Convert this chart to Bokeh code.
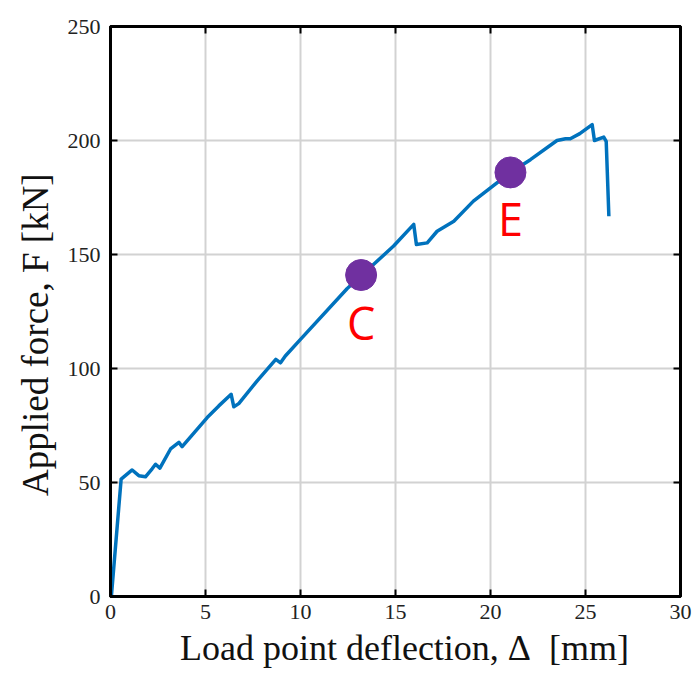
from bokeh.plotting import figure
from bokeh.models import ColumnDataSource, Range1d, LinearAxis, FixedTicker
from bokeh.core.properties import value
from bokeh.embed import file_html
from bokeh.resources import INLINE

# Load-deflection curve
deflection = [0.05, 0.56, 1.14, 1.49, 1.84, 2.19, 2.37, 2.6, 3.16, 3.6, 3.77, 5.09, 5.7,
              6.35, 6.49, 6.75, 7.72, 8.7, 8.95, 9.2, 10.0, 12.46, 14.9, 15.96, 16.1,
              16.67, 17.19, 18.07, 19.1, 21.05, 22.1, 23.5, 23.95, 24.2, 24.7, 25.35,
              25.47, 25.96, 26.09, 26.23]
force = [0.5, 51.5, 55.5, 53.0, 52.5, 56.0, 58.0, 56.3, 64.7, 67.6, 65.7, 78.5, 83.6,
         88.7, 83.2, 84.6, 94.6, 104.0, 102.5, 105.5, 112.8, 135.1, 153.7, 163.2, 154.4,
         155.1, 160.2, 164.6, 173.4, 186.0, 191.6, 200.0, 200.8, 200.8, 203.0, 207.0,
         200.0, 201.5, 199.6, 166.8]

# Marked states
point_names = ["C", "E"]
point_x = [13.19, 21.05]
point_y = [141.0, 186.0]
label_y = [120.0, 166.0]

x_ticks = [0, 5, 10, 15, 20, 25, 30]
y_ticks = [0, 50, 100, 150, 200, 250]

NB = "\u00a0"
x_title = NB * 2 + "Load point deflection, \u0394" + NB * 2 + "[mm]"
y_title = "Applied force, F [kN]" + NB * 5

serif = "Liberation Serif"

p = figure(width=695, height=695, output_backend="svg", toolbar_location=None,
           x_range=Range1d(0, 30), y_range=Range1d(0, 250),
           min_border_left=110, min_border_right=15, min_border_top=26,
           min_border_bottom=99, background_fill_color="white",
           border_fill_color="white")

p.outline_line_color = "black"
p.outline_line_width = 3
p.outline_line_alpha = 1.0

for ax, tks in ((p.xaxis[0], x_ticks), (p.yaxis[0], y_ticks)):
    ax.ticker = FixedTicker(ticks=tks)
    ax.axis_line_color = "black"
    ax.axis_line_width = 3
    ax.major_tick_in = 7
    ax.major_tick_out = 0
    ax.major_tick_line_width = 2
    ax.minor_tick_line_color = None
    ax.major_label_text_font = serif
    ax.major_label_text_font_size = "22px"
    ax.major_label_text_color = "#222222"
    ax.axis_label_text_font = serif
    ax.axis_label_text_font_style = "normal"
    ax.axis_label_text_color = "#111111"

p.xaxis[0].axis_label = x_title
p.xaxis[0].axis_label_text_font_size = "36px"
p.xaxis[0].major_label_standoff = 8
p.xaxis[0].axis_label_standoff = 6
p.yaxis[0].axis_label = y_title
p.yaxis[0].axis_label_text_font_size = "37px"
p.yaxis[0].major_label_standoff = 10
p.yaxis[0].axis_label_standoff = 9

# box ticks on top and right (no labels)
top = LinearAxis(ticker=FixedTicker(ticks=x_ticks),
                 major_label_overrides={t: "" for t in x_ticks},
                 major_tick_in=7, major_tick_out=0, major_tick_line_width=2,
                 minor_tick_line_color=None, axis_line_color="black", axis_line_width=3)
right = LinearAxis(ticker=FixedTicker(ticks=y_ticks),
                   major_label_overrides={t: "" for t in y_ticks},
                   major_tick_in=7, major_tick_out=0, major_tick_line_width=2,
                   minor_tick_line_color=None, axis_line_color="black", axis_line_width=3)
p.add_layout(top, "above")
p.add_layout(right, "right")

p.xgrid.ticker = FixedTicker(ticks=x_ticks)
p.ygrid.ticker = FixedTicker(ticks=y_ticks)
p.grid.grid_line_color = "#d2d2d2"
p.grid.grid_line_width = 2
p.grid.grid_line_alpha = 1.0

p.line(deflection, force, line_color="#0072BD", line_width=3.5, line_join="round")

pts = ColumnDataSource(dict(x=point_x, y=point_y, ly=label_y, name=point_names))
p.scatter("x", "y", source=pts, size=31, fill_color="#7030A0", line_color="#7030A0")
p.text("x", "ly", text="name", source=pts, text_color="#FF0000",
       text_font=value("Open Sans"), text_font_size="45px",
       text_align="center", text_baseline="middle")

open("out.html", "w").write(file_html(p, INLINE))
